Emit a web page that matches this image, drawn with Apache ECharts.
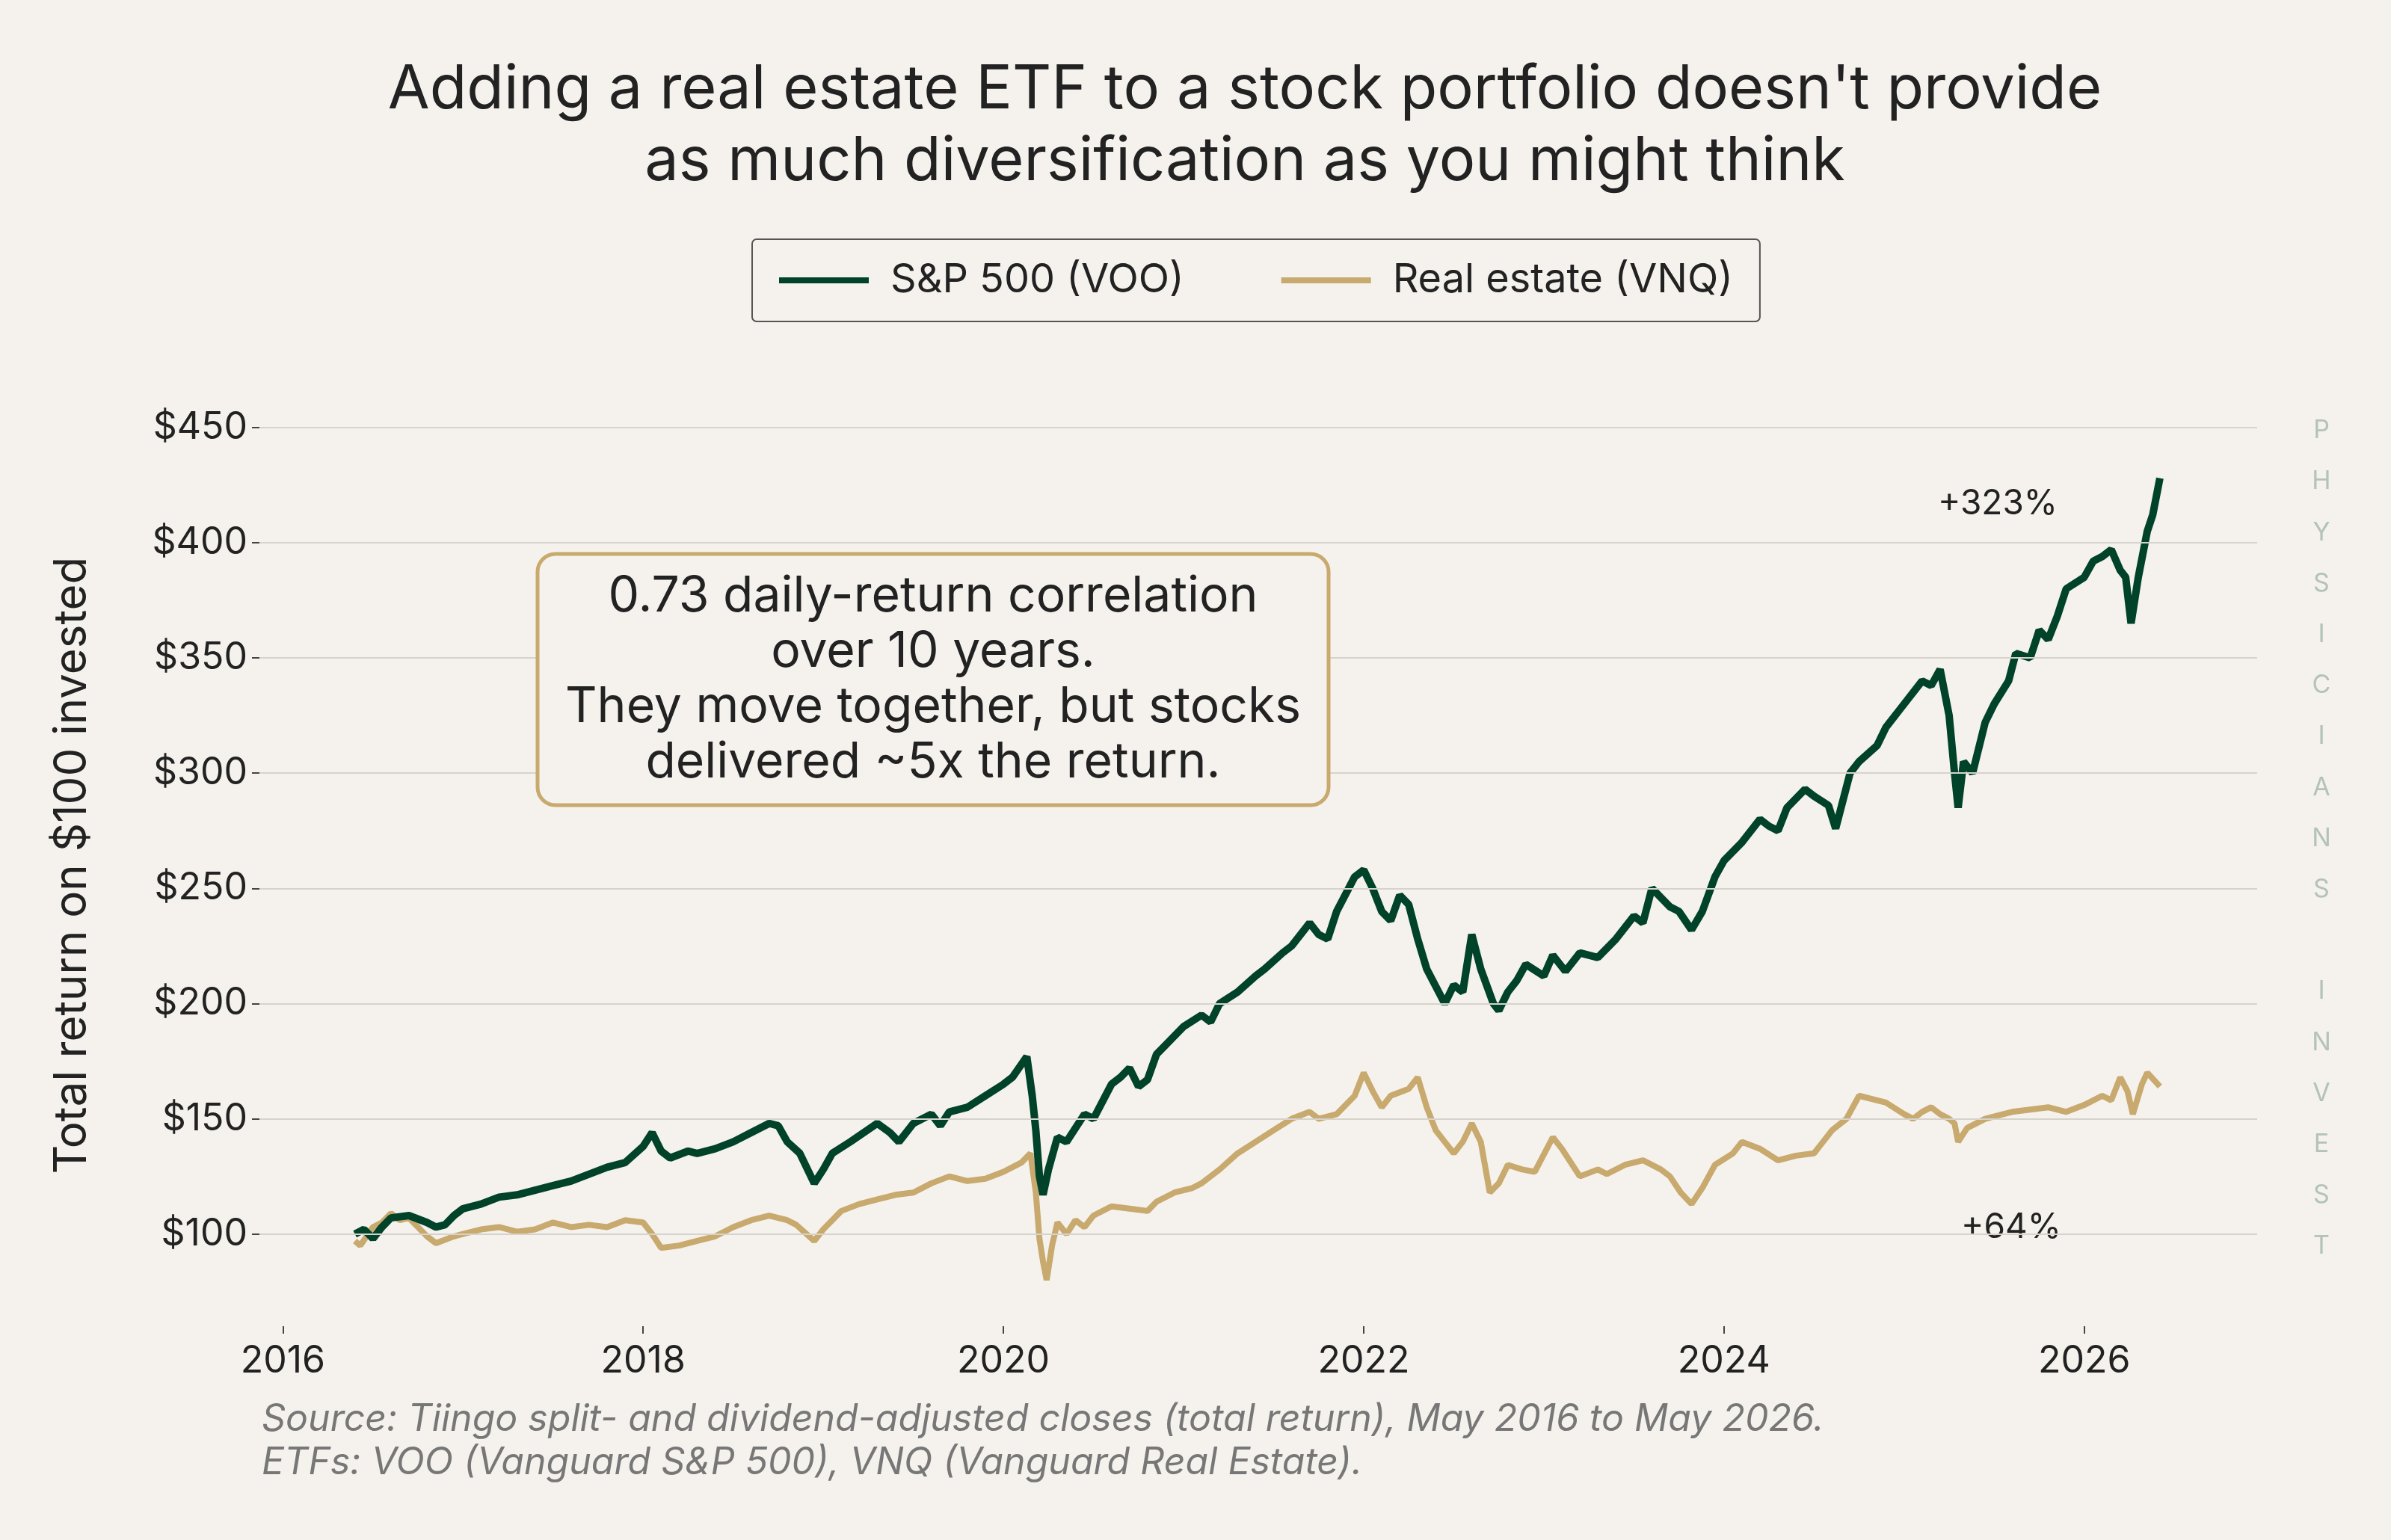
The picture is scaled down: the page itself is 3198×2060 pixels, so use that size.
<!DOCTYPE html>
<html>
<head>
<meta charset="utf-8">
<script src="https://cdn.jsdelivr.net/npm/echarts@6/dist/echarts.min.js"></script>
<style>
html, body { margin: 0; padding: 0; background: #f5f2ed; }
#main { width: 3198px; height: 2060px; }
</style>
</head>
<body>
<div id="main"></div>
<script>
var yTicks = [100, 150, 200, 250, 300, 350, 400, 450];
var xTicks = [2016, 2018, 2020, 2022, 2024, 2026];

// [year, value of $100 invested]
var vooPoints = [
	[2016.4, 100], [2016.45, 102], [2016.5, 98], [2016.55, 103], [2016.6, 107], [2016.7, 108], [2016.8, 105], [2016.85, 103],
	[2016.9, 104], [2016.95, 108], [2017.0, 111], [2017.1, 113], [2017.2, 116], [2017.3, 117], [2017.4, 119], [2017.5, 121],
	[2017.6, 123], [2017.7, 126], [2017.8, 129], [2017.9, 131], [2018.0, 138], [2018.05, 144], [2018.1, 136], [2018.15, 133],
	[2018.25, 136], [2018.3, 135], [2018.4, 137], [2018.5, 140], [2018.6, 144], [2018.7, 148], [2018.75, 147], [2018.8, 140],
	[2018.87, 135], [2018.95, 122], [2019.0, 128], [2019.05, 135], [2019.15, 140], [2019.3, 148], [2019.37, 144], [2019.42, 140],
	[2019.5, 148], [2019.6, 152], [2019.65, 147], [2019.7, 153], [2019.8, 155], [2019.9, 160], [2020.0, 165], [2020.05, 168],
	[2020.13, 177], [2020.16, 160], [2020.18, 145], [2020.2, 125], [2020.22, 117], [2020.25, 128], [2020.3, 142], [2020.35, 140],
	[2020.45, 152], [2020.5, 150], [2020.6, 165], [2020.65, 168], [2020.7, 172], [2020.75, 164], [2020.8, 167], [2020.85, 178],
	[2020.9, 182], [2021.0, 190], [2021.1, 195], [2021.15, 192], [2021.2, 200], [2021.3, 205], [2021.4, 212], [2021.45, 215],
	[2021.55, 222], [2021.6, 225], [2021.7, 235], [2021.75, 230], [2021.8, 228], [2021.85, 240], [2021.95, 255], [2022.0, 258],
	[2022.05, 250], [2022.1, 240], [2022.15, 236], [2022.2, 247], [2022.25, 243], [2022.3, 228], [2022.35, 215], [2022.45, 200],
	[2022.5, 208], [2022.55, 205], [2022.6, 230], [2022.65, 215], [2022.72, 200], [2022.75, 197], [2022.8, 205], [2022.85, 210],
	[2022.9, 217], [2023.0, 212], [2023.05, 221], [2023.12, 214], [2023.2, 222], [2023.3, 220], [2023.4, 228], [2023.5, 238],
	[2023.55, 235], [2023.6, 250], [2023.7, 242], [2023.75, 240], [2023.82, 232], [2023.88, 240], [2023.95, 255], [2024.0, 262],
	[2024.1, 270], [2024.2, 280], [2024.25, 277], [2024.3, 275], [2024.35, 285], [2024.45, 293], [2024.5, 290], [2024.58, 286],
	[2024.62, 276], [2024.7, 300], [2024.75, 305], [2024.85, 312], [2024.9, 320], [2025.0, 330], [2025.1, 340], [2025.15, 338],
	[2025.2, 345], [2025.25, 325], [2025.28, 300], [2025.3, 285], [2025.33, 305], [2025.38, 300], [2025.45, 322], [2025.5, 330],
	[2025.58, 340], [2025.62, 352], [2025.7, 350], [2025.75, 362], [2025.8, 358], [2025.85, 368], [2025.9, 380], [2026.0, 385],
	[2026.05, 392], [2026.1, 394], [2026.15, 397], [2026.2, 388], [2026.23, 385], [2026.26, 365], [2026.3, 385], [2026.35, 405],
	[2026.38, 412], [2026.42, 428]
];

var vnqPoints = [
	[2016.4, 97], [2016.43, 95], [2016.5, 103], [2016.55, 105], [2016.6, 109], [2016.65, 106], [2016.7, 107], [2016.75, 103],
	[2016.8, 99], [2016.85, 96], [2016.95, 99], [2017.0, 100], [2017.1, 102], [2017.2, 103], [2017.3, 101], [2017.4, 102],
	[2017.5, 105], [2017.6, 103], [2017.7, 104], [2017.8, 103], [2017.9, 106], [2018.0, 105], [2018.05, 100], [2018.1, 94],
	[2018.2, 95], [2018.3, 97], [2018.4, 99], [2018.5, 103], [2018.6, 106], [2018.7, 108], [2018.8, 106], [2018.85, 104],
	[2018.95, 97], [2019.0, 102], [2019.1, 110], [2019.2, 113], [2019.3, 115], [2019.4, 117], [2019.5, 118], [2019.6, 122],
	[2019.7, 125], [2019.8, 123], [2019.9, 124], [2020.0, 127], [2020.1, 131], [2020.15, 135], [2020.18, 118], [2020.2, 98],
	[2020.22, 88], [2020.24, 80], [2020.27, 95], [2020.3, 105], [2020.35, 100], [2020.4, 106], [2020.45, 103], [2020.5, 108],
	[2020.6, 112], [2020.7, 111], [2020.8, 110], [2020.85, 114], [2020.95, 118], [2021.05, 120], [2021.1, 122], [2021.2, 128],
	[2021.3, 135], [2021.4, 140], [2021.5, 145], [2021.6, 150], [2021.7, 153], [2021.75, 150], [2021.85, 152], [2021.95, 160],
	[2022.0, 170], [2022.05, 162], [2022.1, 155], [2022.15, 160], [2022.25, 163], [2022.3, 168], [2022.35, 155], [2022.4, 145],
	[2022.45, 140], [2022.5, 135], [2022.55, 140], [2022.6, 148], [2022.65, 140], [2022.7, 118], [2022.75, 122], [2022.8, 130],
	[2022.88, 128], [2022.95, 127], [2023.05, 142], [2023.1, 137], [2023.2, 125], [2023.3, 128], [2023.35, 126], [2023.45, 130],
	[2023.55, 132], [2023.65, 128], [2023.7, 125], [2023.76, 118], [2023.82, 113], [2023.88, 120], [2023.95, 130], [2024.05, 135],
	[2024.1, 140], [2024.2, 137], [2024.3, 132], [2024.4, 134], [2024.5, 135], [2024.55, 140], [2024.6, 145], [2024.68, 150],
	[2024.75, 160], [2024.85, 158], [2024.9, 157], [2025.0, 152], [2025.05, 150], [2025.1, 153], [2025.15, 155], [2025.2, 152],
	[2025.25, 150], [2025.28, 148], [2025.3, 140], [2025.35, 146], [2025.45, 150], [2025.55, 152], [2025.6, 153], [2025.7, 154],
	[2025.8, 155], [2025.9, 153], [2026.0, 156], [2026.1, 160], [2026.15, 158], [2026.2, 168], [2026.24, 162], [2026.27, 152],
	[2026.32, 165], [2026.35, 170], [2026.42, 164]
];

var watermark = ['P', 'H', 'Y', 'S', 'I', 'C', 'I', 'A', 'N', 'S', '', 'I', 'N', 'V', 'E', 'S', 'T'];

var font = 'Inter, "Noto Sans", sans-serif';
var chart = echarts.init(document.getElementById('main'));

var graphics = [];
for (var i = 0; i < watermark.length; i++) {
	if (!watermark[i]) continue;
	graphics.push({
		type: 'text', x: 3105, y: 576 + i * 68.2,
		style: { text: watermark[i], fill: '#b3c3b6', font: '34px ' + font, textAlign: 'center', textVerticalAlign: 'middle' }
	});
}
graphics.push({
	type: 'rect', shape: { x: 719, y: 741, width: 1058, height: 336, r: 24 },
	style: { fill: '#f5f2ed', stroke: '#c8a96e', lineWidth: 5 }, z: 50
});
graphics.push({
	type: 'text', x: 1248, y: 909, z: 51,
	style: {
		text: '0.73 daily-return correlation\nover 10 years.\nThey move together, but stocks\ndelivered ~5x the return.',
		fill: '#222222', font: '66px ' + font, textAlign: 'center', textVerticalAlign: 'middle', lineHeight: 74
	}
});
graphics.push({
	type: 'text', x: 350, y: 1870,
	style: {
		text: 'Source: Tiingo split- and dividend-adjusted closes (total return), May 2016 to May 2026.\nETFs: VOO (Vanguard S&P 500), VNQ (Vanguard Real Estate).',
		fill: '#777777', font: 'italic 50px ' + font, lineHeight: 58
	}
});
graphics.push({
	type: 'text', x: 2672, y: 674,
	style: { text: '+323%', fill: '#222222', font: '46px ' + font, textAlign: 'center', textVerticalAlign: 'middle' }
});
graphics.push({
	type: 'text', x: 2690, y: 1642,
	style: { text: '+64%', fill: '#222222', font: '46px ' + font, textAlign: 'center', textVerticalAlign: 'middle',
		backgroundColor: '#f5f2ed', padding: [4, 24] }
});

var option = {
	backgroundColor: '#f5f2ed',
	animation: false,
	title: {
		text: "Adding a real estate ETF to a stock portfolio doesn't provide\nas much diversification as you might think",
		left: 1660, top: 68, textAlign: 'center',
		textStyle: { color: '#222222', fontFamily: font, fontSize: 81, fontWeight: 'normal', lineHeight: 96 }
	},
	legend: {
		top: 320, left: 1006,
		data: ['S&P 500 (VOO)', 'Real estate (VNQ)'],
		itemWidth: 120, itemHeight: 8, itemGap: 130,
		padding: [28, 36], borderColor: '#555555', borderWidth: 2, borderRadius: 6,
		icon: 'rect',
		textStyle: { color: '#222222', fontFamily: font, fontSize: 54, padding: [0, 0, 0, 24] }
	},
	grid: { left: 347, right: 179, top: 541, bottom: 286 },
	xAxis: {
		type: 'value', min: 2015.87, max: 2026.96,
		axisLine: { show: false }, splitLine: { show: false },
		axisTick: { show: true, customValues: xTicks, length: 10, lineStyle: { color: '#444', width: 2 } },
		axisLabel: { customValues: xTicks, color: '#222222', fontFamily: font, fontSize: 50, margin: 22,
			formatter: function (v) { return String(v); } }
	},
	yAxis: {
		type: 'value', min: 60, max: 460,
		name: 'Total return on $100 invested', nameLocation: 'middle', nameGap: 220,
		nameTextStyle: { color: '#222222', fontFamily: font, fontSize: 60 },
		axisLine: { show: false }, splitLine: { show: false },
		axisTick: { show: true, customValues: yTicks, length: 10, lineStyle: { color: '#444', width: 2 } },
		axisLabel: { customValues: yTicks, color: '#222222', fontFamily: font, fontSize: 50, margin: 16,
			formatter: function (v) { return '$' + v; } }
	},
	series: [
		{
			name: 'grid', type: 'line', data: [], z: 1, silent: true,
			markLine: {
				silent: true, symbol: 'none', label: { show: false },
				lineStyle: { color: '#d6d3cd', width: 2, type: 'solid' },
				data: yTicks.map(function (v) { return { yAxis: v }; })
			}
		},
		{
			name: 'S&P 500 (VOO)', type: 'line', showSymbol: false, z: 3,
			data: vooPoints,
			itemStyle: { color: '#00432a' }, lineStyle: { color: '#00432a', width: 10 }
		},
		{
			name: 'Real estate (VNQ)', type: 'line', showSymbol: false, z: 2,
			data: vnqPoints,
			itemStyle: { color: '#c8a96e' }, lineStyle: { color: '#c8a96e', width: 8 }
		}
	],
	graphic: graphics
};
chart.setOption(option);
</script>
</body>
</html>
